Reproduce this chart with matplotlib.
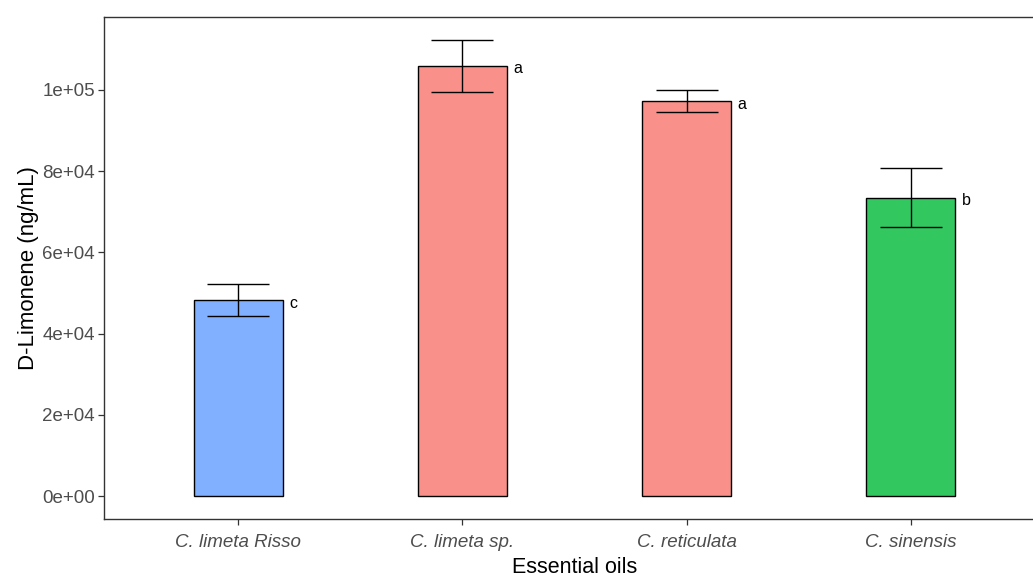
import numpy as np
import matplotlib.pyplot as plt

plt.rcParams['font.family'] = ['Liberation Sans', 'DejaVu Sans']

# D-limonene content per essential oil
oils = ['C. limeta Risso', 'C. limeta sp.', 'C. reticulata', 'C. sinensis']
limonene = [48300, 106000, 97200, 73500]
sd = [3900, 6400, 2700, 7200]
groups = ['c', 'a', 'a', 'b']
colors = ['#619CFF', '#F8766D', '#F8766D', '#00BA38']

W, H = 1033, 579
fig = plt.figure(figsize=(W / 100, H / 100), dpi=100)
# panel runs slightly past the right edge of the canvas
ax = fig.add_axes([104 / W, 1 - 519 / H, 941 / W, (519 - 17) / H])

x = np.arange(len(oils))
ax.bar(x, limonene, width=0.4, color=colors, alpha=0.8, edgecolor='none', zorder=2)
ax.bar(x, limonene, width=0.4, fill=False, edgecolor='black', linewidth=1.0, zorder=3)
ax.errorbar(x, limonene, yerr=sd, fmt='none', ecolor='black', elinewidth=1.0,
            capsize=22.5, capthick=1.0, zorder=4)

for xi, yi, g in zip(x, limonene, groups):
    ax.text(xi + 0.228, yi - 800, g, ha='left', va='center', fontsize=11.5, color='black')

ax.set_xlim(-0.6, len(oils) - 0.4)
ax.set_ylim(-5660, 117950)
ax.set_yticks([0, 20000, 40000, 60000, 80000, 100000])
ax.set_yticklabels(['0e+00', '2e+04', '4e+04', '6e+04', '8e+04', '1e+05'])
ax.set_xticks(x)
ax.set_xticklabels(oils, style='italic')

ax.tick_params(axis='both', colors='#333333', labelcolor='#4D4D4D', labelsize=13.5,
               length=4, width=0.9, pad=2.5)
ax.tick_params(axis='x', pad=7)
for s in ax.spines.values():
    s.set_color('#333333')
    s.set_linewidth(1.0)

ax.set_xlabel('Essential oils', fontsize=15.5, labelpad=4)
ax.set_ylabel('D-Limonene (ng/mL)', fontsize=16, labelpad=2)

fig.savefig('out.png', dpi=100)
